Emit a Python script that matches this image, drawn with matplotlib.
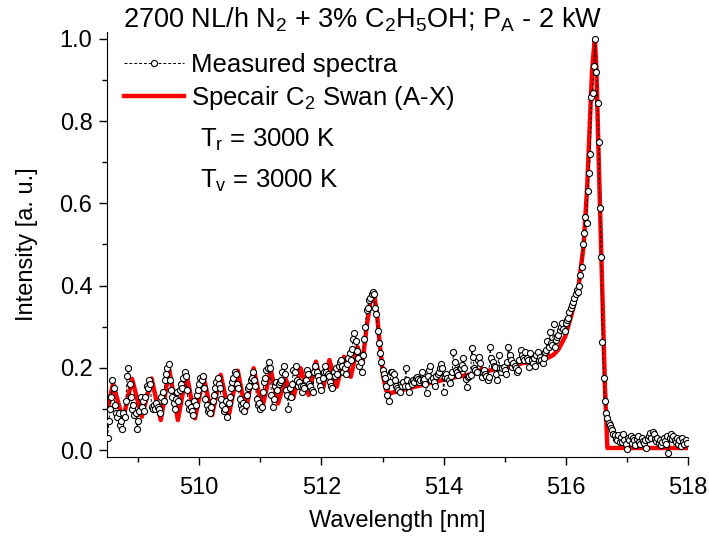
import numpy as np
import matplotlib
matplotlib.use("Agg")
import matplotlib.pyplot as plt
from matplotlib.ticker import MultipleLocator

plt.rcParams['font.family'] = ['Liberation Sans', 'DejaVu Sans']
plt.rcParams['mathtext.fontset'] = 'custom'
plt.rcParams['mathtext.rm'] = 'Liberation Sans'
plt.rcParams['mathtext.it'] = 'Liberation Sans:italic'

# Measured spectrum: wavelength grid + intensities, 1 nm per block
meas_start = 508.50
meas_step = 0.02

meas_5085 = [0.03, 0.07, 0.10, 0.13, 0.17, 0.15, 0.11, 0.09, 0.08, 0.09,
             0.06, 0.07, 0.05, 0.09, 0.08, 0.12, 0.18, 0.20, 0.16, 0.13,
             0.10, 0.11, 0.085, 0.09, 0.05, 0.07, 0.095, 0.13, 0.105, 0.12,
             0.095, 0.13, 0.155, 0.15, 0.17, 0.16, 0.105, 0.10, 0.11, 0.10,
             0.115, 0.105, 0.10, 0.09, 0.13, 0.14, 0.12, 0.17, 0.185, 0.20]
meas_5095 = [0.21, 0.17, 0.145, 0.13, 0.115, 0.10, 0.125, 0.14, 0.12, 0.145,
             0.16, 0.15, 0.175, 0.19, 0.18, 0.145, 0.115, 0.10, 0.105, 0.095,
             0.085, 0.12, 0.11, 0.135, 0.145, 0.16, 0.175, 0.17, 0.18, 0.15,
             0.125, 0.11, 0.095, 0.10, 0.09, 0.105, 0.12, 0.135, 0.15, 0.165,
             0.175, 0.16, 0.15, 0.125, 0.11, 0.095, 0.10, 0.12, 0.08, 0.115]
meas_5105 = [0.13, 0.15, 0.165, 0.175, 0.19, 0.185, 0.16, 0.15, 0.125, 0.11,
             0.10, 0.115, 0.095, 0.11, 0.135, 0.15, 0.155, 0.17, 0.175, 0.19,
             0.17, 0.155, 0.125, 0.11, 0.115, 0.10, 0.105, 0.14, 0.165, 0.175,
             0.195, 0.20, 0.215, 0.20, 0.135, 0.105, 0.125, 0.155, 0.165, 0.145,
             0.16, 0.165, 0.17, 0.19, 0.205, 0.185, 0.145, 0.135, 0.10, 0.15]
meas_5115 = [0.13, 0.16, 0.195, 0.19, 0.205, 0.17, 0.155, 0.165, 0.155, 0.14,
             0.155, 0.15, 0.17, 0.195, 0.185, 0.16, 0.155, 0.145, 0.14, 0.19,
             0.205, 0.19, 0.18, 0.17, 0.155, 0.145, 0.175, 0.19, 0.205, 0.19,
             0.185, 0.18, 0.165, 0.155, 0.15, 0.19, 0.18, 0.20, 0.185, 0.205,
             0.215, 0.22, 0.205, 0.19, 0.20, 0.185, 0.21, 0.225, 0.235, 0.22]
meas_5125 = [0.245, 0.27, 0.285, 0.265, 0.24, 0.225, 0.205, 0.215, 0.19, 0.23,
             0.27, 0.30, 0.34, 0.345, 0.365, 0.37, 0.38, 0.385, 0.38, 0.345,
             0.33, 0.29, 0.26, 0.235, 0.215, 0.195, 0.185, 0.175, 0.155, 0.135,
             0.12, 0.165, 0.19, 0.19, 0.185, 0.17, 0.155, 0.15, 0.145, 0.14,
             0.16, 0.155, 0.165, 0.155, 0.20, 0.17, 0.155, 0.14, 0.165, 0.16]
meas_5135 = [0.17, 0.165, 0.175, 0.178, 0.174, 0.165, 0.17, 0.19, 0.17, 0.172,
             0.16, 0.138, 0.18, 0.195, 0.205, 0.17, 0.175, 0.165, 0.155, 0.18,
             0.185, 0.19, 0.20, 0.21, 0.20, 0.14, 0.178, 0.186, 0.175, 0.17,
             0.162, 0.18, 0.19, 0.239, 0.215, 0.195, 0.19, 0.182, 0.199, 0.20,
             0.207, 0.223, 0.20, 0.174, 0.154, 0.178, 0.18, 0.182, 0.247, 0.227]
meas_5145 = [0.199, 0.195, 0.19, 0.219, 0.227, 0.211, 0.178, 0.19, 0.195, 0.186,
             0.18, 0.17, 0.178, 0.251, 0.223, 0.215, 0.205, 0.203, 0.185, 0.17,
             0.231, 0.199, 0.19, 0.20, 0.203, 0.195, 0.186, 0.215, 0.251, 0.23,
             0.219, 0.203, 0.211, 0.205, 0.199, 0.19, 0.195, 0.22, 0.243, 0.231,
             0.225, 0.219, 0.239, 0.225, 0.219, 0.203, 0.235, 0.22, 0.211, 0.225]
meas_5155 = [0.205, 0.23, 0.239, 0.219, 0.227, 0.22, 0.211, 0.225, 0.239, 0.243,
             0.265, 0.25, 0.288, 0.26, 0.255, 0.307, 0.25, 0.268, 0.275, 0.28,
             0.292, 0.30, 0.308, 0.295, 0.29, 0.31, 0.316, 0.32, 0.335, 0.345,
             0.353, 0.36, 0.37, 0.38, 0.389, 0.385, 0.40, 0.426, 0.445, 0.50,
             0.528, 0.568, 0.552, 0.631, 0.674, 0.72, 0.86, 0.868, 0.935, 1.0]
meas_5165 = [0.92, 0.845, 0.75, 0.59, 0.47, 0.263, 0.175, 0.12, 0.09, 0.078,
             0.066, 0.061, 0.053, 0.048, 0.04, 0.036, 0.028, 0.024, 0.036, 0.02,
             0.032, 0.02, 0.04, 0.025, 0.015, 0.002, 0.03, 0.024, 0.035, 0.018,
             0.03, 0.025, 0.012, 0.028, 0.033, 0.02, 0.015, 0.03, 0.022, 0.018,
             0.025, 0.005, 0.028, 0.035, 0.042, 0.03, 0.045, 0.038, 0.028, 0.022]
meas_5175 = [0.03, 0.018, 0.025, 0.012, 0.02, 0.03, 0.022, 0.015, 0.035, -0.008,
             0.03, 0.038, 0.028, 0.035, 0.025, 0.02, 0.03, 0.015, 0.025, 0.01,
             0.03, 0.02, 0.015, 0.025, 0.018]

# Specair C2 Swan (A-X) simulation
spec_wl = [508.50, 508.59, 508.75, 508.90, 509.06, 509.22, 509.37, 509.51, 509.65, 509.79,
           509.93, 510.07, 510.21, 510.35, 510.49, 510.63, 510.76, 510.89, 511.03, 511.17,
           511.29, 511.41, 511.54, 511.66, 511.79, 511.91, 512.02, 512.13, 512.25, 512.37,
           512.48, 512.59, 512.67, 512.74, 512.80, 512.86, 512.91, 512.96, 513.01, 513.06,
           513.12, 513.30, 513.50, 513.70, 513.90, 514.10, 514.30, 514.50, 514.60, 514.62,
           514.64, 514.80, 515.00, 515.20, 515.30, 515.32, 515.34, 515.50, 515.65, 515.70,
           515.72, 515.80, 515.88, 515.99, 516.10, 516.21, 516.29, 516.35, 516.40, 516.43,
           516.475, 516.50, 516.53, 516.58, 516.64, 516.68, 518.00]
spec_int = [0.10, 0.162, 0.073, 0.173, 0.081, 0.174, 0.073, 0.195, 0.073, 0.187,
            0.077, 0.178, 0.085, 0.183, 0.089, 0.193, 0.093, 0.199, 0.101, 0.195,
            0.113, 0.174, 0.126, 0.199, 0.134, 0.215, 0.146, 0.219, 0.154, 0.227,
            0.178, 0.251, 0.211, 0.30, 0.36, 0.381, 0.33, 0.25, 0.18, 0.145,
            0.138, 0.145, 0.153, 0.16, 0.167, 0.175, 0.18, 0.186, 0.19, 0.198,
            0.19, 0.195, 0.20, 0.207, 0.212, 0.22, 0.212, 0.218, 0.226, 0.235,
            0.225, 0.232, 0.245, 0.276, 0.333, 0.40, 0.495, 0.64, 0.82, 0.925,
            1.0, 0.93, 0.755, 0.48, 0.154, 0.005, 0.005]

meas_int = np.array(meas_5085 + meas_5095 + meas_5105 + meas_5115 + meas_5125 +
                    meas_5135 + meas_5145 + meas_5155 + meas_5165 + meas_5175)
meas_wl = meas_start + meas_step * np.arange(len(meas_int))

fs = 17
fs_leg = 18.5
fig = plt.figure(figsize=(7.09, 5.42), dpi=100)
ax = fig.add_axes([0.1509, 0.1568, 0.8195, 0.7842])

ax.plot(spec_wl, spec_int, color='#ff0000', lw=3.2, zorder=2,
        label='Specair C$_2$ Swan (A-X)')
ax.plot(meas_wl, meas_int, color='black', lw=0.7, ls=(0, (3, 2)),
        marker='o', ms=4.4, mfc='white', mec='black', mew=0.8, zorder=3,
        label='Measured spectra')

ax.set_xlim(508.49, 518.0)
ax.set_ylim(-0.017, 1.017)
ax.xaxis.set_major_locator(MultipleLocator(2))
ax.xaxis.set_minor_locator(MultipleLocator(1))
ax.yaxis.set_major_locator(MultipleLocator(0.2))
ax.yaxis.set_minor_locator(MultipleLocator(0.1))
ax.tick_params(which='major', direction='out', length=6, width=1, labelsize=fs)
ax.tick_params(which='minor', direction='out', length=3.5, width=1)
ax.tick_params(axis='x', which='major', pad=8.5)
ax.tick_params(axis='y', which='major', pad=4.5)
ax.spines['top'].set_visible(False)
ax.spines['right'].set_visible(False)

ax.set_xlabel('Wavelength [nm]', fontsize=fs)
ax.set_ylabel('Intensity [a. u.]', fontsize=fs)
ax.xaxis.set_label_coords(0.5, -0.125)
ax.yaxis.set_label_coords(-0.119, 0.5)

h, l = ax.get_legend_handles_labels()
ax.legend(h[::-1], l[::-1], loc='upper left', bbox_to_anchor=(0.0, 0.99),
          frameon=False, fontsize=fs_leg, handlelength=2.33, handletextpad=0.3,
          labelspacing=0.27, borderaxespad=0.25)

ax.text(0.16, 0.729, 'T$_\\mathrm{r}$ = 3000 K', transform=ax.transAxes,
        fontsize=fs_leg, va='baseline')
ax.text(0.16, 0.633, 'T$_\\mathrm{v}$ = 3000 K', transform=ax.transAxes,
        fontsize=fs_leg, va='baseline')

fig.text(123 / 709, 1 - 28 / 542,
         '2700 NL/h N$_2$ + 3% C$_2$H$_5$OH; P$_\\mathrm{A}$ - 2 kW',
         fontsize=19.5, va='baseline', ha='left')

fig.savefig('out.png', dpi=100)
